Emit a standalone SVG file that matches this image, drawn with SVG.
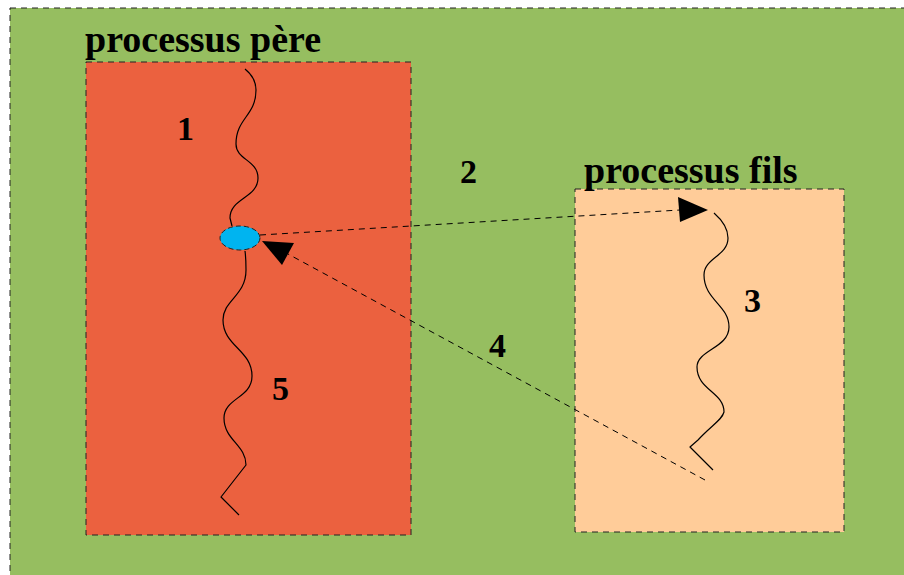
<svg xmlns="http://www.w3.org/2000/svg" width="904" height="575" viewBox="0 0 904 575">
<style>
.box{stroke:#222;stroke-width:1;stroke-dasharray:6,5}
.lbl{font-family:"Liberation Serif",serif;font-weight:bold;font-size:38px;fill:#000}
.num{font-family:"Liberation Serif",serif;font-weight:bold;font-size:34px;fill:#000}
.wave{fill:none;stroke:#000;stroke-width:1.2;stroke-linejoin:round}
.conn{fill:none;stroke:#000;stroke-width:1;stroke-dasharray:6,5}
</style>
<rect width="904" height="575" fill="#fff"/>
<g id="background">
<rect x="10" y="8" width="900" height="575" fill="#96BE60" class="box"/>
</g>
<g id="pere">
<rect x="86" y="62" width="325" height="473" fill="#EB613F" class="box"/>
<text class="lbl" x="85" y="52">processus père</text>
<path class="wave" d="M245,69 C250,73 256,80 256,90 C256,116 236,118 236,144 C236,160 258,160 258,178 C258,198 230,198 230,218 L232,226"/>
<path class="wave" d="M245,251 C246,258 246,262 246,270 C246,296 223,300 223,320 C223,346 252,350 252,376 C252,398 224,398 224,418 C224,440 246,445 246,465 L221,497 L239,515"/>
<ellipse cx="240" cy="238" rx="20" ry="12" fill="#00B4F0" stroke="#222" stroke-width="1" stroke-dasharray="5,3"/>
<text class="num" x="177" y="140">1</text>
<text class="num" x="272" y="400">5</text>
</g>
<g id="fils">
<rect x="575" y="189" width="269" height="343" fill="#FFCC99" class="box"/>
<text class="lbl" x="584" y="183">processus fils</text>
<path class="wave" d="M714,213 C722,220 728,228 728,238 C728,256 704,258 704,275 C704,300 729,305 729,327 C729,348 697,350 697,367 C697,390 724,392 724,412 C722,420 712,425 698,440 L690,447 L713,470"/>
<text class="num" x="744" y="312">3</text>
</g>
<g id="labels">
<text class="num" x="460" y="183">2</text>
<text class="num" x="489" y="357">4</text>
</g>
<g id="connectors">
<line class="conn" x1="260" y1="235" x2="680" y2="210"/>
<polygon points="708,210 678,197 680,222" fill="#000"/>
<line class="conn" x1="705" y1="480" x2="288" y2="254"/>
<polygon points="262,241 294,243 282,265" fill="#000"/>
</g>
</svg>
